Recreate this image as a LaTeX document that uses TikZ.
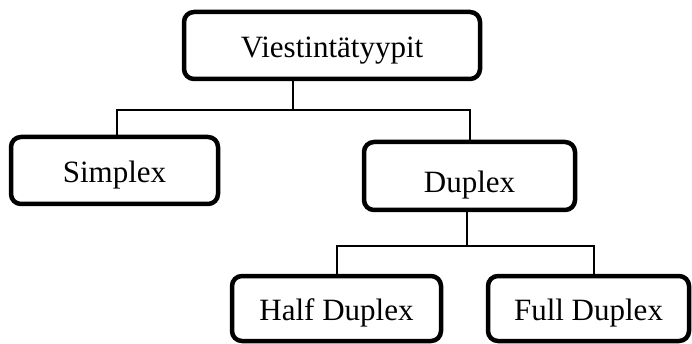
\documentclass[tikz,border=0pt]{standalone}
\usepackage{fontspec}
\setmainfont{Liberation Serif}
\begin{document}
\begin{tikzpicture}[x=1pt,y=-1pt,
  box/.style={draw=black, line width=4.5pt, rounded corners=10pt, fill=white,
    inner sep=0pt, font=\fontsize{31}{36}\selectfont, text depth=6.4pt, text height=30pt},
  conn/.style={draw=black, line width=1.3pt}]
\useasboundingbox (0,0) rectangle (692,344);
\node[box, minimum width=296pt, minimum height=67pt] (top) at (332,45.5) {Viestintätyypit};
\node[box, minimum width=207pt, minimum height=67pt] (simplex) at (114.5,170.5) {Simplex};
\node[box, minimum width=211pt, minimum height=68pt, text height=39pt] (duplex) at (469.5,176) {Duplex};
\node[box, minimum width=209pt, minimum height=65pt, text height=30.8pt] (half) at (336.5,308.5) {Half Duplex};
\node[box, minimum width=201pt, minimum height=65pt, text height=30.8pt] (full) at (588.5,308.5) {Full Duplex};
\coordinate (j1) at (293,110);
\coordinate (j2) at (467,246);
\draw[conn] (top.south -| j1) -- (j1);
\draw[conn] ([xshift=2.5pt]simplex.north) |- (j1);
\draw[conn] (j1) -| ([xshift=0.5pt]duplex.north);
\draw[conn] (duplex.south -| j2) -- (j2);
\draw[conn] ([xshift=0.5pt]half.north) |- (j2);
\draw[conn] (j2) -| ([xshift=5.5pt]full.north);
\end{tikzpicture}
\end{document}
